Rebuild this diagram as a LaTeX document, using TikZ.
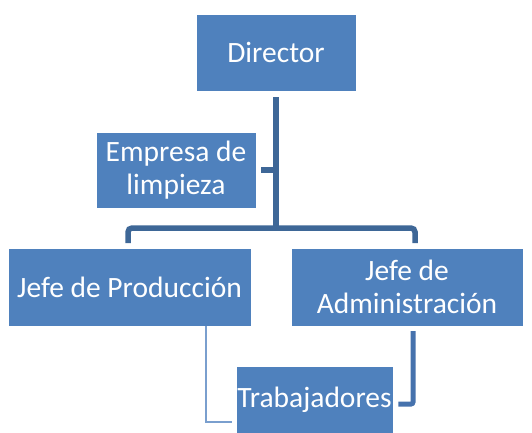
\documentclass[tikz,border=0pt]{standalone}
\usepackage{fontspec}
\setmainfont{Carlito}
\definecolor{boxblue}{HTML}{4F81BD}
\definecolor{linedark}{HTML}{3E6797}
\definecolor{linemid}{HTML}{4672AD}
\definecolor{linelight}{HTML}{7A9FCE}
\begin{document}
\begin{tikzpicture}[x=1pt,y=-1pt,
  box/.style={fill=boxblue, draw=white, line width=0.8pt, text=white, inner sep=0pt, align=center,
    font=\fontsize{29.5}{33.5}\selectfont},
  thick conn/.style={draw=linedark, line width=5.5pt},
  mid conn/.style={draw=linemid, line width=5pt, rounded corners=2pt},
  thin conn/.style={draw=linelight, line width=1.6pt}]
\useasboundingbox (0,0) rectangle (532,432);
\node[box, minimum width=160pt, minimum height=77pt] (dir) at (276,52.5) {Director};
\node[box, minimum width=160pt, minimum height=76pt] (emp) at (176,170) {Empresa de\\limpieza};
\node[box, minimum width=243pt, minimum height=78pt] (jp) at (129.5,287) {Jefe de Producción};
\node[box, minimum width=232pt, minimum height=78pt] (ja) at (407,287) {Jefe de\\Administración};
\node[box, minimum width=157pt, minimum height=68pt] (tr) at (314.5,400) {Trabajadores};
% connectors
\coordinate (bus) at (276,228);
\coordinate (busL) at (128,228);
\coordinate (busR) at (415,228);
\coordinate (jpTop) at (128,243);
\coordinate (jaTop) at (415,243);
\draw[thick conn] ([yshift=-6pt]dir.south) -- (bus);
\draw[thick conn] ([xshift=5pt]emp.east) -- (emp.east -| bus);
\draw[thick conn, rounded corners=4pt] (jpTop) -- (busL) -- (busR) -- (jaTop);
\coordinate (jpB) at (206,326);
\coordinate (jpC) at (206,422);
\draw[thin conn] (jpB) -- (jpC) -- ([xshift=-4pt]tr.west |- jpC);
\coordinate (jaB) at (413,331);
\coordinate (jaC) at (413,404);
\draw[mid conn] (jaB) -- (jaC) -- ([xshift=5pt]tr.east |- jaC);
\end{tikzpicture}
\end{document}
